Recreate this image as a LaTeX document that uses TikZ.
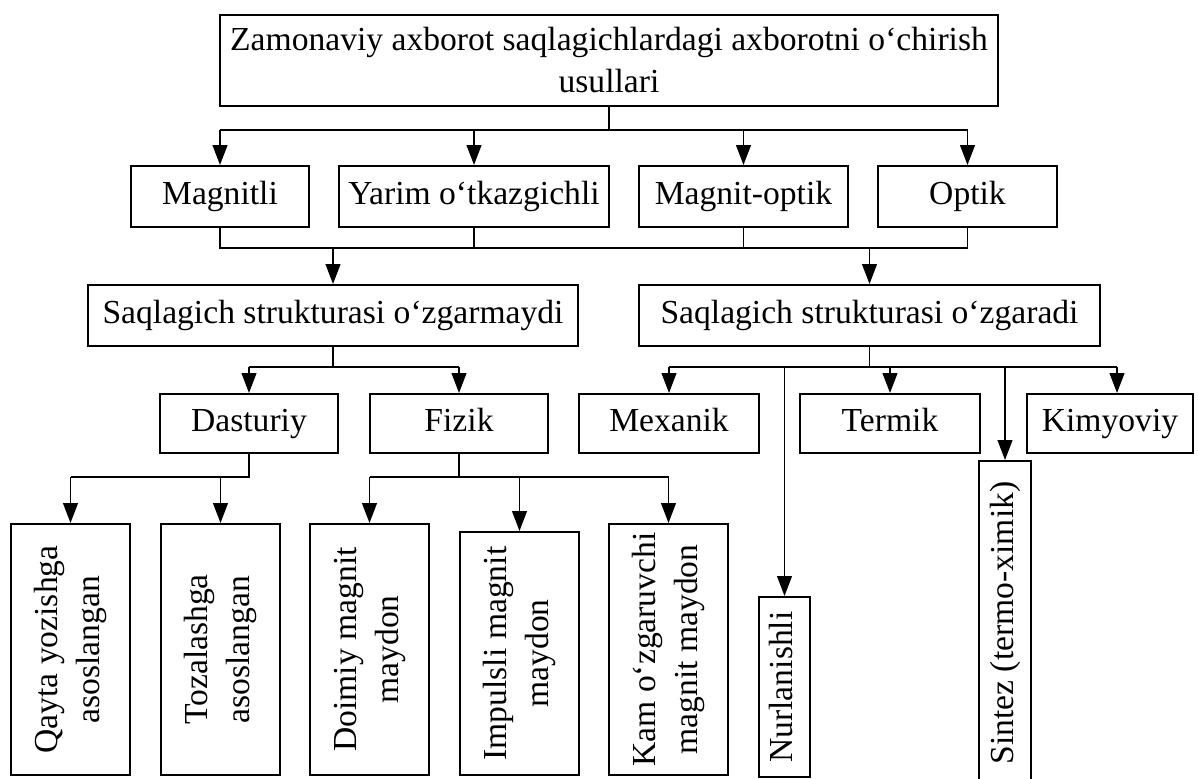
\documentclass[tikz,border=0pt]{standalone}
\usepackage{fontspec}
\setmainfont{Liberation Serif}
\usetikzlibrary{arrows.meta}
% two-line label set rotated (reads bottom to top)
\newcommand{\vertlabel}[1]{\rotatebox{90}{\begin{tabular}{@{}c@{}}#1\end{tabular}}}
\begin{document}
\begin{tikzpicture}[x=0.5pt,y=-0.5pt,
  box/.style={draw, line width=1pt, inner sep=0pt, align=center,
              font=\fontsize{16.8}{21}\selectfont},
  oneline/.style={box, text height=11.6pt, text depth=3.6pt},
  sz/.style 2 args={minimum width=#1*0.5pt, minimum height=#2*0.5pt},
  link/.style={line width=0.9pt},
  arr/.style={link, -{Triangle[length=10pt,width=7.4pt]}}]
\useasboundingbox (0,0) rectangle (1198,778);

% ---- boxes ----
\node[box, sz={778}{91}] (top) at (609,60.5)
  {Zamonaviy axborot saqlagichlardagi axborotni o‘chirish\\usullari};

\node[oneline, sz={178}{61}] (mag) at (220,196.5)   {Magnitli};
\node[oneline, sz={270}{61}] (yar) at (474,196.5)   {Yarim o‘tkazgichli};
\node[oneline, sz={209}{61}] (mo)  at (743.5,196.5) {Magnit-optik};
\node[oneline, sz={179}{61}] (opt) at (967.5,196.5) {Optik};

\node[oneline, sz={490}{61}] (keep) at (333,315.5)  {Saqlagich strukturasi o‘zgarmaydi};
\node[oneline, sz={461}{61}] (chg)  at (869.5,315.5) {Saqlagich strukturasi o‘zgaradi};

\node[oneline, sz={178}{59}] (das) at (249,423.5)  {Dasturiy};
\node[oneline, sz={178}{59}] (fiz) at (459,423.5)  {Fizik};
\node[oneline, sz={180}{59}] (mex) at (669,423.5)  {Mexanik};
\node[oneline, sz={180}{59}] (ter) at (890,423.5)  {Termik};
\node[oneline, sz={166}{59}] (kim) at (1110,423.5) {Kimyoviy};

\node[box, sz={119}{251}] (qay) at (70.5,649.5)  {\vertlabel{Qayta yozishga\\asoslangan}};
\node[box, sz={119}{251}] (toz) at (220.5,649.5) {\vertlabel{Tozalashga\\asoslangan}};
\node[box, sz={119}{251}] (doi) at (369.5,649.5) {\vertlabel{Doimiy magnit\\maydon}};
\node[box, sz={119}{243}] (imp) at (519.5,653.5) {\vertlabel{Impulsli magnit\\maydon}};
\node[box, sz={119}{251}] (kam) at (668.5,649.5) {\vertlabel{Kam o‘zgaruvchi\\magnit maydon}};
\node[box, sz={51}{180}]  (nur) at (784.5,687)   {\vertlabel{Nurlanishli}};
\node[box, sz={52}{324}]  (sin) at (1005,623)    {\vertlabel{Sintez (termo-ximik)}};

% ---- bus levels ----
\coordinate (b1) at (0,130);
\coordinate (b2) at (0,248);
\coordinate (b3) at (0,367);
\coordinate (b4) at (0,477);
\coordinate (kx) at (1117,367);

% top -> storage types
\draw[link] (top.south) -- (top.south |- b1);
\draw[link] (mag.north |- b1) -- (opt.north |- b1);
\foreach \n in {mag,yar,mo,opt} \draw[arr] (\n.north |- b1) -- (\n.north);

% storage types -> structure
\draw[link] (mag.south) -- (mag.south |- b2) -- (opt.south |- b2) -- (opt.south);
\draw[link] (yar.south) -- (yar.south |- b2);
\draw[link] (mo.south) -- (mo.south |- b2);
\draw[arr] (keep.north |- b2) -- (keep.north);
\draw[arr] (chg.north |- b2) -- (chg.north);

% structure unchanged
\draw[link] (keep.south) -- (keep.south |- b3);
\draw[link] (das.north |- b3) -- (fiz.north |- b3);
\draw[arr] (das.north |- b3) -- (das.north);
\draw[arr] (fiz.north |- b3) -- (fiz.north);

% structure changed
\draw[link] (chg.south) -- (chg.south |- b3);
\draw[link] (mex.north |- b3) -- (kx);
\draw[arr] (mex.north |- b3) -- (mex.north);
\draw[arr] (ter.north |- b3) -- (ter.north);
\draw[arr] (kx) -- (kx |- kim.north);
\draw[arr] (nur.north |- b3) -- (nur.north);
\draw[arr] (sin.north |- b3) -- (sin.north);

% software methods
\draw[link] (das.south) -- (das.south |- b4) -- (qay.north |- b4);
\draw[arr] (qay.north |- b4) -- (qay.north);
\draw[arr] (toz.north |- b4) -- (toz.north);

% physical methods
\draw[link] (fiz.south) -- (fiz.south |- b4);
\draw[link] (doi.north |- b4) -- (kam.north |- b4);
\foreach \n in {doi,imp,kam} \draw[arr] (\n.north |- b4) -- (\n.north);
\end{tikzpicture}
\end{document}
